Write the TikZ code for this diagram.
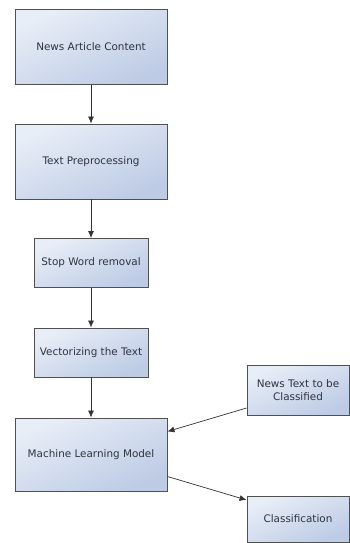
\documentclass[tikz,border=0pt]{standalone}
\usepackage{fontspec}
\setmainfont{DejaVu Sans}
\usetikzlibrary{arrows.meta, positioning, calc}
\definecolor{boxlight}{HTML}{E8EEF7}
\definecolor{boxdark}{HTML}{BDCBE5}
\definecolor{boxline}{HTML}{505050}
\definecolor{textgray}{HTML}{2E3440}

\begin{document}
\begin{tikzpicture}[
  x=1pt, y=-1pt,
  every node/.style={font=\fontsize{10.4}{12.5}\selectfont, text=textgray},
  process/.style={rectangle, draw=boxline, line width=0.9pt, shading=axis, left color=boxlight, right color=boxdark, shading angle=25, align=center, inner sep=2pt},
  big/.style={process, minimum width=152pt, minimum height=75pt},
  small/.style={process, minimum width=114pt, minimum height=49pt},
  side/.style={process, minimum width=102pt, minimum height=48pt},
  arrow/.style={-{Latex[length=7pt, width=6pt]}, line width=0.7pt, draw=black!80}
]
\useasboundingbox (0,0) rectangle (350,543);

% Nodes
\node[big] (content) at (91,47) {News Article Content};
\node[big] (prep) at (91,161.5) {Text Preprocessing};
\node[small] (stopword) at (91,263) {Stop Word removal};
\node[small] (vector) at (91,352.5) {Vectorizing the Text};
\node[big, minimum height=73pt] (model) at (91,454.5) {Machine Learning Model};
\node[side, minimum height=50pt] (newstext) at (298,390) {News Text to be\\Classified};
\node[side, minimum height=46pt] (classify) at (298,519) {Classification};

% Arrows
\draw[arrow] (content) -- (prep);
\draw[arrow] (prep) -- (stopword);
\draw[arrow] (stopword) -- (vector);
\draw[arrow] (vector) -- (model);
\draw[arrow] ([yshift=-18pt]newstext.west) -- ([yshift=23pt]model.east);
\draw[arrow] ([yshift=-22pt]model.east) -- ([yshift=19pt]classify.west);

\end{tikzpicture}
\end{document}
